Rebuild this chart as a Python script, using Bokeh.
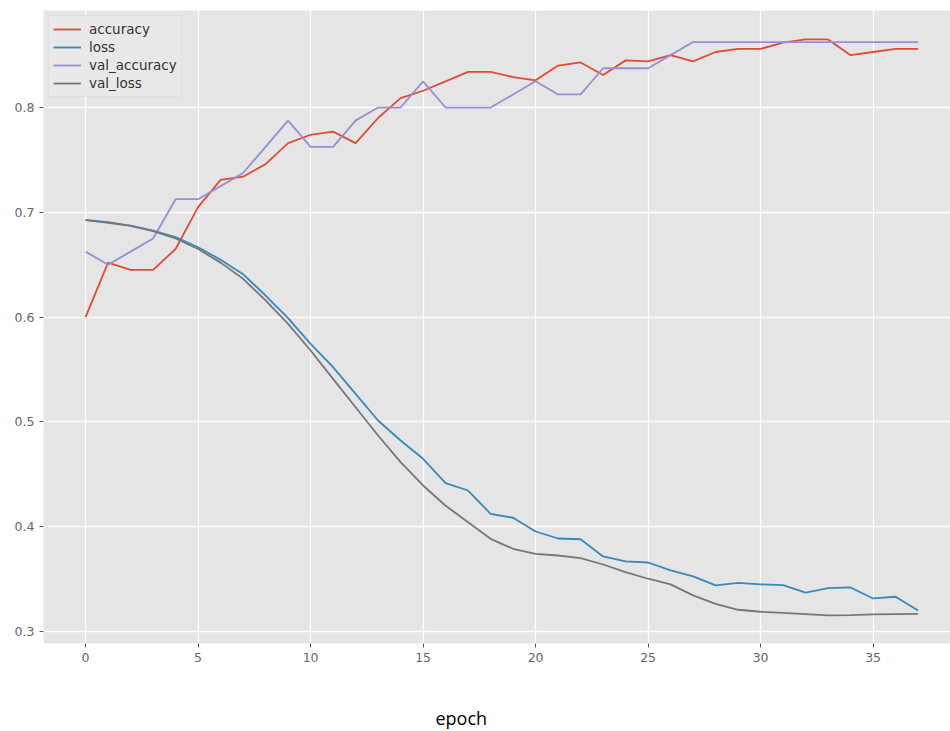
from bokeh.plotting import figure
from bokeh.models import Range1d, FixedTicker, Title, Legend, LegendItem
from bokeh.embed import file_html
from bokeh.resources import INLINE

epochs = list(range(38))

accuracy = [0.600, 0.652, 0.645, 0.645, 0.665, 0.705, 0.731, 0.734, 0.746, 0.766,
            0.774, 0.777, 0.766, 0.790, 0.809, 0.816, 0.825, 0.834, 0.834, 0.829,
            0.826, 0.840, 0.843, 0.831, 0.845, 0.844, 0.850, 0.844, 0.853, 0.856,
            0.856, 0.862, 0.865, 0.865, 0.850, 0.853, 0.856, 0.856]

loss = [0.6928, 0.6906, 0.6874, 0.6826, 0.6763, 0.6667, 0.6547, 0.641, 0.6206, 0.599,
        0.5745, 0.5522, 0.5268, 0.5013, 0.4822, 0.4648, 0.4415, 0.4345, 0.4123, 0.4085,
        0.3954, 0.3887, 0.388, 0.3716, 0.3668, 0.3658, 0.3582, 0.3525, 0.3439, 0.3464,
        0.3449, 0.3442, 0.337, 0.3414, 0.342, 0.3315, 0.3331, 0.320]

val_accuracy = [0.6625, 0.65, 0.6625, 0.675, 0.7125, 0.7125, 0.725, 0.7375, 0.7625, 0.7875,
                0.7625, 0.7625, 0.7875, 0.8, 0.8, 0.825, 0.8, 0.8, 0.8, 0.8125,
                0.825, 0.8125, 0.8125, 0.8375, 0.8375, 0.8375, 0.85, 0.8625, 0.8625, 0.8625,
                0.8625, 0.8625, 0.8625, 0.8625, 0.8625, 0.8625, 0.8625, 0.8625]

val_loss = [0.6925, 0.690, 0.687, 0.682, 0.675, 0.665, 0.652, 0.6365, 0.616, 0.5936,
            0.5681, 0.541, 0.514, 0.487, 0.4616, 0.4393, 0.420, 0.4043, 0.3884, 0.3789,
            0.3741, 0.3725, 0.370, 0.3639, 0.3567, 0.3503, 0.3449, 0.3344, 0.3264, 0.3207,
            0.3188, 0.3178, 0.3166, 0.3153, 0.3156, 0.3162, 0.3166, 0.3168]

series_names = ["accuracy", "loss", "val_accuracy", "val_loss"]
series_colors = ["#E24A33", "#348ABD", "#988ED5", "#777777"]

x_ticks = [0, 5, 10, 15, 20, 25, 30, 35]
y_ticks = [0.3, 0.4, 0.5, 0.6, 0.7, 0.8]
y_tick_labels = ["0.3", "0.4", "0.5", "0.6", "0.7", "0.8"]
x_label = "epoch"

p = figure(width=950, height=731, output_backend="svg", toolbar_location=None,
           x_range=Range1d(-1.87, 38.44), y_range=Range1d(0.2885, 0.8926),
           min_border_left=43, min_border_right=0, min_border_top=10, min_border_bottom=88)

p.background_fill_color = "#E5E5E5"
p.border_fill_color = "white"
p.outline_line_color = None

p.grid.grid_line_color = "white"
p.grid.grid_line_width = 1.3

p.xaxis.ticker = FixedTicker(ticks=x_ticks)
p.yaxis.ticker = FixedTicker(ticks=y_ticks)
p.yaxis.major_label_overrides = {t: l for t, l in zip(y_ticks, y_tick_labels)}
for ax in (p.xaxis, p.yaxis):
    ax.axis_line_color = None
    ax.minor_tick_line_color = None
    ax.major_tick_line_color = "#555555"
    ax.major_tick_out = 4
    ax.major_tick_in = 0
    ax.major_label_text_color = "#666666"
    ax.major_label_text_font = "DejaVu Sans"
    ax.major_label_text_font_size = "12.5px"
    ax.major_label_standoff = 5

all_series = [accuracy, loss, val_accuracy, val_loss]
items = []
for name, color, ys in zip(series_names, series_colors, all_series):
    r = p.line(epochs, ys, line_color=color, line_width=1.8)
    items.append(LegendItem(label=name, renderers=[r]))

legend = Legend(items=items, location="top_left")
legend.background_fill_color = "#E8E8E8"
legend.background_fill_alpha = 0.9
legend.border_line_color = "#D5D5D5"
legend.label_text_font = "DejaVu Sans"
legend.label_text_font_size = "13.5px"
legend.label_text_color = "#333333"
legend.glyph_width = 28
legend.glyph_height = 18
legend.label_height = 18
legend.spacing = 0
legend.padding = 4
legend.margin = 5
legend.label_standoff = 8
p.add_layout(legend)

spacer = Title(text=" ", text_font_size="2px", standoff=35)
p.add_layout(spacer, "below")

t = Title(text=x_label, align="left", offset=392, text_font="Open Sans",
          text_font_size="18px", text_font_style="normal", text_color="black", standoff=0)
p.add_layout(t, "below")

open("out.html", "w").write(file_html(p, INLINE))
